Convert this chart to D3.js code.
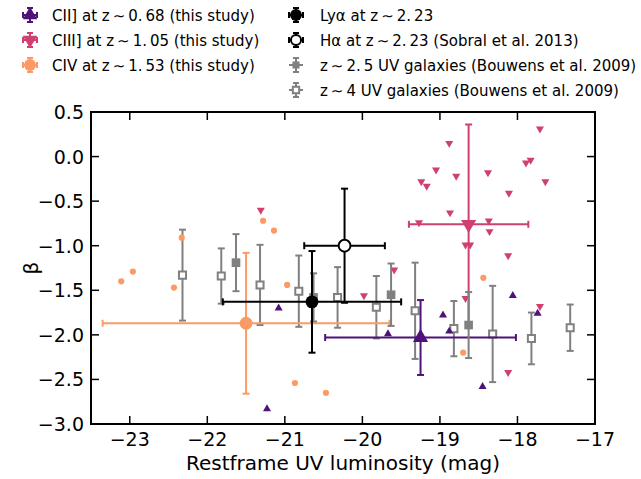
<!DOCTYPE html>
<meta charset="utf-8">
<script src="https://d3js.org/d3.v7.min.js"></script>
<style>
  body { margin: 0; background: #fff; }
  text { font-family: "DejaVu Sans", sans-serif; }
</style>
<div id="my_dataviz"></div>
<script>

// individual sources (this study)
var ciiMuv  = [-21.08, -21.23, -19.67, -18.96, -18.88, -18.06, -17.74, -18.45]
var ciiBeta = [-1.70, -2.83, -1.99, -1.78, -1.96, -1.56, -1.76, -2.58]

var ciiiMuv  = [-21.31, -19.98, -19.59, -18.67, -18.12, -17.71, -18.12, -18.67, -18.61, -18.36,
                -18.88, -17.71, -19.05, -18.79, -19.24, -19.17, -18.38, -17.89, -17.83, -17.64,
                -18.11, -18.87, -19.27, -18.37]
var ciiiBeta = [-0.60, -1.56, -1.27, -1.59, -1.11, -1.68, -2.42, -0.99, -0.99, -0.84,
                0.15, 0.31, -0.15, -0.22, -0.28, -0.33, -0.18, -0.07, -0.04, -0.28,
                -0.41, -0.63, -0.74, -0.72]

var civMuv  = [-22.33, -21.28, -21.14, -23.11, -22.96, -22.43, -20.97, -20.87, -20.47, -18.44, -18.70]
var civBeta = [-0.91, -0.72, -0.83, -1.40, -1.29, -1.47, -1.44, -2.54, -2.65, -1.36, -2.20]

// averages: [Muv, beta, xerr, yerr]
var ciiMean  = [-19.25, -2.03, 1.23, 0.42]
var ciiiMean = [-18.63, -0.76, 0.77, 1.12]
var civMean  = [-21.50, -1.87, 1.85, 0.79]
var lyaMean  = [-20.65, -1.63, 1.15, 0.57]
var haMean   = [-20.23, -1.00, 0.52, 0.64]

// Bouwens et al. 2009
var z25Muv  = [-21.63, -20.63, -19.63, -18.63]
var z25Beta = [-1.19, -1.58, -1.55, -1.89]
var z25Err  = [0.32, 0.27, 0.35, 0.37]

var z4Muv  = [-22.32, -21.82, -21.32, -20.82, -20.32, -19.82, -19.32, -18.82, -18.32, -17.82, -17.32]
var z4Beta = [-1.33, -1.34, -1.44, -1.51, -1.58, -1.69, -1.73, -1.93, -1.99, -2.04, -1.92]
var z4Err  = [0.51, 0.31, 0.45, 0.40, 0.34, 0.35, 0.54, 0.31, 0.54, 0.29, 0.26]

var xTicks = [-23, -22, -21, -20, -19, -18, -17]
var yTicks = [0.5, 0.0, -0.5, -1.0, -1.5, -2.0, -2.5, -3.0]

var legendLeft = ["CII] at z\u2009\u223c\u20090.\u200968 (this study)",
                  "CIII] at z\u2009\u223c\u20091.\u200905 (this study)",
                  "CIV at z\u2009\u223c\u20091.\u200953 (this study)"]
var legendRight = ["Ly\u03b1 at z\u2009\u223c\u20092.\u200923",
                   "H\u03b1 at z\u2009\u223c\u20092.\u200923 (Sobral et al. 2013)",
                   "z\u2009\u223c\u20092.\u20095 UV galaxies (Bouwens et al. 2009)",
                   "z\u2009\u223c\u20094 UV galaxies (Bouwens et al. 2009)"]

var purple = "#4f127b", pink = "#cf4070", orange = "#fc9a66", grey = "#808080"

var width = 641, height = 479
var pLeft = 91, pRight = 595, pTop = 112, pBottom = 424

var svg = d3.select("#my_dataviz").append("svg")
  .attr("width", width).attr("height", height)

var x = d3.scaleLinear().domain([-23.5, -17]).range([pLeft, pRight])
var y = d3.scaleLinear().domain([-3, 0.5]).range([pBottom, pTop])

var fmt = function(v) { return (v < 0 ? "\u2212" : "") + Math.abs(v).toFixed(1) }
var plot = svg.append("g")

function place(rot) {
  return function(d) { return "translate(" + x(d[0]) + "," + y(d[1]) + ")" + (rot ? " rotate(180)" : "") }
}

// error bar helper
function errbar(g, cx, cy, xe, ye, color, cap, lw) {
  if (xe) {
    g.append("line").attr("x1", x(cx - xe)).attr("x2", x(cx + xe)).attr("y1", y(cy)).attr("y2", y(cy))
      .attr("stroke", color).attr("stroke-width", lw)
    ;[cx - xe, cx + xe].forEach(function(v) {
      g.append("line").attr("x1", x(v)).attr("x2", x(v)).attr("y1", y(cy) - cap).attr("y2", y(cy) + cap)
        .attr("stroke", color).attr("stroke-width", lw)
    })
  }
  if (ye) {
    g.append("line").attr("x1", x(cx)).attr("x2", x(cx)).attr("y1", y(cy - ye)).attr("y2", y(cy + ye))
      .attr("stroke", color).attr("stroke-width", lw)
    ;[cy - ye, cy + ye].forEach(function(v) {
      g.append("line").attr("x1", x(cx) - cap).attr("x2", x(cx) + cap).attr("y1", y(v)).attr("y2", y(v))
        .attr("stroke", color).attr("stroke-width", lw)
    })
  }
}

// z~4 open squares
z4Muv.forEach(function(m, i) { errbar(plot, m, z4Beta[i], 0, z4Err[i], grey, 3.5, 2) })
plot.selectAll(".z4").data(z4Muv.map(function(m, i) { return [m, z4Beta[i]] })).enter()
  .append("path").attr("d", d3.symbol(d3.symbolSquare, 50)).attr("transform", place())
  .attr("fill", "white").attr("stroke", grey).attr("stroke-width", 2)

// individual points
plot.selectAll(".civ").data(civMuv.map(function(m, i) { return [m, civBeta[i]] })).enter()
  .append("path").attr("d", d3.symbol(d3.symbolCircle, 30)).attr("transform", place()).attr("fill", orange)
plot.selectAll(".cii").data(ciiMuv.map(function(m, i) { return [m, ciiBeta[i]] })).enter()
  .append("path").attr("d", d3.symbol(d3.symbolTriangle, 28)).attr("transform", place()).attr("fill", purple)
plot.selectAll(".ciii").data(ciiiMuv.map(function(m, i) { return [m, ciiiBeta[i]] })).enter()
  .append("path").attr("d", d3.symbol(d3.symbolTriangle, 28)).attr("transform", place(true)).attr("fill", pink)

// averages
errbar(plot, civMean[0], civMean[1], civMean[2], civMean[3], orange, 3.5, 2)
plot.append("path").datum(civMean).attr("d", d3.symbol(d3.symbolCircle, 130)).attr("transform", place()).attr("fill", orange)
errbar(plot, ciiMean[0], ciiMean[1], ciiMean[2], ciiMean[3], purple, 3.5, 2)
plot.append("path").datum(ciiMean).attr("d", d3.symbol(d3.symbolTriangle, 100)).attr("transform", place()).attr("fill", purple)
errbar(plot, ciiiMean[0], ciiiMean[1], ciiiMean[2], ciiiMean[3], pink, 3.5, 2)
plot.append("path").datum(ciiiMean).attr("d", d3.symbol(d3.symbolTriangle, 100)).attr("transform", place(true)).attr("fill", pink)

// z~2.5 filled squares
z25Muv.forEach(function(m, i) { errbar(plot, m, z25Beta[i], 0, z25Err[i], grey, 3.5, 2) })
plot.selectAll(".z25").data(z25Muv.map(function(m, i) { return [m, z25Beta[i]] })).enter()
  .append("path").attr("d", d3.symbol(d3.symbolSquare, 75)).attr("transform", place()).attr("fill", grey)

errbar(plot, lyaMean[0], lyaMean[1], lyaMean[2], lyaMean[3], "black", 3.5, 2)
plot.append("path").datum(lyaMean).attr("d", d3.symbol(d3.symbolCircle, 130)).attr("transform", place()).attr("fill", "black")
errbar(plot, haMean[0], haMean[1], haMean[2], haMean[3], "black", 3.5, 2)
plot.append("path").datum(haMean).attr("d", d3.symbol(d3.symbolCircle, 110)).attr("transform", place())
  .attr("fill", "white").attr("stroke", "black").attr("stroke-width", 2)

// frame and inward ticks
var ax = svg.append("g").attr("stroke", "black")
xTicks.forEach(function(t) {
  ax.append("line").attr("x1", x(t)).attr("x2", x(t)).attr("y1", pBottom).attr("y2", pBottom - 8).attr("stroke-width", 1.5)
  ax.append("line").attr("x1", x(t)).attr("x2", x(t)).attr("y1", pTop).attr("y2", pTop + 8).attr("stroke-width", 1.5)
  svg.append("text").attr("x", x(t)).attr("y", 446).attr("text-anchor", "middle")
    .style("font-size", "19px").text("\u2212" + Math.abs(t))
})
yTicks.forEach(function(t) {
  ax.append("line").attr("x1", pLeft).attr("x2", pLeft + 8).attr("y1", y(t)).attr("y2", y(t)).attr("stroke-width", 1.5)
  ax.append("line").attr("x1", pRight).attr("x2", pRight - 8).attr("y1", y(t)).attr("y2", y(t)).attr("stroke-width", 1.5)
  svg.append("text").attr("x", 84).attr("y", y(t) + 7).attr("text-anchor", "end")
    .style("font-size", "19px").text(fmt(t))
})
ax.append("rect").attr("x", pLeft).attr("y", pTop).attr("width", pRight - pLeft).attr("height", pBottom - pTop)
  .attr("fill", "none").attr("stroke-width", 2)

svg.append("text").attr("x", (pLeft + pRight) / 2).attr("y", 470).attr("text-anchor", "middle")
  .style("font-size", "20px").text("Restframe UV luminosity (mag)")
svg.append("text").attr("transform", "translate(38," + (pTop + pBottom) / 2 + ") rotate(-90)")
  .attr("text-anchor", "middle").style("font-size", "20px").text("\u03b2")

// legend
var lg = svg.append("g")
function legendMarker(cx, cy, color, shape, filled, rot, size) {
  var g = lg.append("g").attr("transform", "translate(" + cx + "," + cy + ")")
  var c = 3
  ;[[-7, 0, 7, 0], [0, -7, 0, 7]].forEach(function(l) {
    g.append("line").attr("x1", l[0]).attr("y1", l[1]).attr("x2", l[2]).attr("y2", l[3]).attr("stroke", color).attr("stroke-width", 2)
  })
  if (shape !== "sq") {
    ;[[-7, -c, -7, c], [7, -c, 7, c]].forEach(function(l) {
      g.append("line").attr("x1", l[0]).attr("y1", l[1]).attr("x2", l[2]).attr("y2", l[3]).attr("stroke", color).attr("stroke-width", 2)
    })
  }
  ;[[-c, -7, c, -7], [-c, 7, c, 7]].forEach(function(l) {
    g.append("line").attr("x1", l[0]).attr("y1", l[1]).attr("x2", l[2]).attr("y2", l[3]).attr("stroke", color).attr("stroke-width", 2)
  })
  var t = shape === "sq" ? d3.symbolSquare : shape === "tri" ? d3.symbolTriangle : d3.symbolCircle
  g.append("path").attr("d", d3.symbol(t, size)).attr("transform", rot ? "rotate(180)" : null)
    .attr("fill", filled ? color : "white").attr("stroke", filled ? "none" : color).attr("stroke-width", 2)
}
var rowY = [15, 40, 65, 90]
legendMarker(30, rowY[0], purple, "tri", true, false, 90)
legendMarker(30, rowY[1], pink, "tri", true, true, 90)
legendMarker(30, rowY[2], orange, "circ", true, false, 110)
legendMarker(296, rowY[0], "black", "circ", true, false, 110)
legendMarker(296, rowY[1], "black", "circ", false, false, 80)
legendMarker(296, rowY[2], grey, "sq", true, false, 50)
legendMarker(296, rowY[3], grey, "sq", false, false, 40)
legendLeft.forEach(function(s, i) {
  lg.append("text").attr("x", 52).attr("y", rowY[i] + 5.5).style("font-size", "15px").text(s)
})
legendRight.forEach(function(s, i) {
  lg.append("text").attr("x", 320).attr("y", rowY[i] + 5.5).style("font-size", "15px").text(s)
})

</script>
